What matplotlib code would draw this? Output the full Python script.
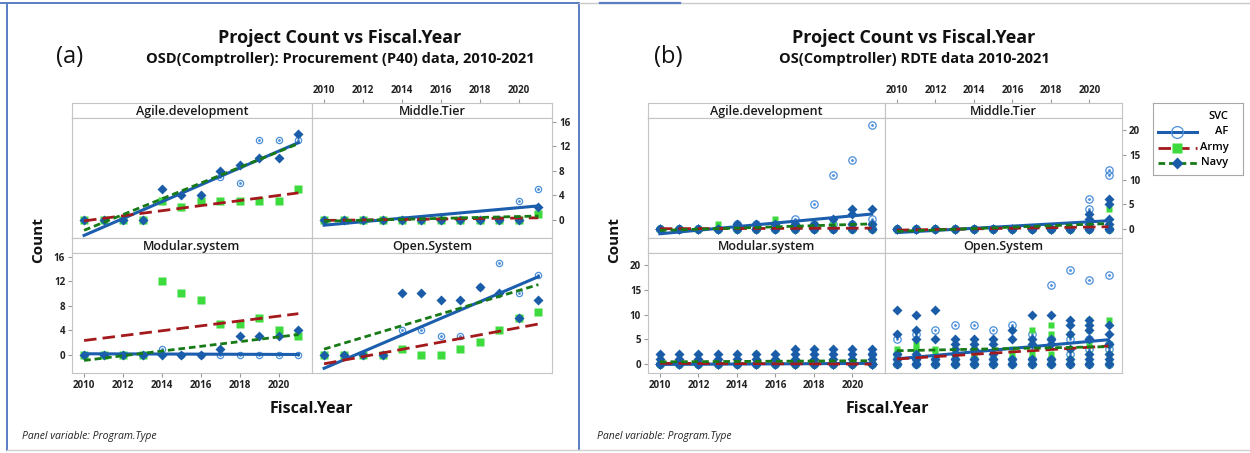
import numpy as np
import matplotlib
matplotlib.use("Agg")
import matplotlib.pyplot as plt
from matplotlib.lines import Line2D

plt.rcParams["font.family"] = ["Open Sans", "DejaVu Sans"]

W, H = 1250, 453

years = list(range(2010, 2022))
programs = ["Agile.development", "Middle.Tier", "Modular.system", "Open.System"]
services = ["AF", "Army", "Navy"]

# (a) OSD(Comptroller) procurement (P40): one count per service per year
p40_agile_af = [0, 0, 0, 0, 3, 2, 3, 7, 6, 13, 13, 13]
p40_agile_army = [0, 0, 0, 0, 3, 2, 3, 3, 3, 3, 3, 5]
p40_agile_navy = [0, 0, 0, 0, 5, 4, 4, 8, 9, 10, 10, 14]
p40_middle_af = [0, 0, 0, 0, 0, 0, 0, 0, 0, 0, 3, 5]
p40_middle_army = [0, 0, 0, 0, 0, 0, 0, 0, 0, 0, 0, 1]
p40_middle_navy = [0, 0, 0, 0, 0, 0, 0, 0, 0, 0, 0, 2]
p40_modular_af = [0, 0, 0, 0, 1, 0, 0, 0, 0, 0, 0, 0]
p40_modular_army = [0, 0, 0, 0, 12, 10, 9, 5, 5, 6, 4, 3]
p40_modular_navy = [0, 0, 0, 0, 0, 0, 0, 1, 3, 3, 3, 4]
p40_open_af = [0, 0, 0, 0, 4, 4, 3, 3, 11, 15, 10, 13]
p40_open_army = [0, 0, 0, 0, 1, 0, 0, 1, 2, 4, 6, 7]
p40_open_navy = [0, 0, 0, 0, 10, 10, 9, 9, 11, 10, 6, 9]

# (b) OS(Comptroller) RDTE: several program counts per service per year
rdte_agile_af = [[0, 0, 0, 0, 0]] * 4 + [[0, 0, 0, 0, 1]] * 3 + [
    [0, 0, 0, 1, 2], [0, 0, 0, 1, 5], [0, 0, 0, 1, 11], [0, 0, 0, 1, 14], [0, 0, 1, 2, 21]]
rdte_agile_army = [[0, 0, 0], [0, 0, 0], [0, 0, 0], [0, 0, 1], [0, 0, 0], [0, 0, 0],
                   [0, 0, 2], [0, 0, 0], [0, 0, 1], [0, 0, 1], [0, 0, 0], [0, 0, 0]]
rdte_agile_navy = [[0, 0, 0, 0]] * 4 + [[0, 0, 0, 1]] * 5 + [
    [0, 0, 0, 2], [0, 0, 1, 3, 4], [0, 0, 1, 4]]
rdte_middle_af = [[0, 0, 0, 0, 0]] * 10 + [[0, 0, 0, 0, 4, 6], [0, 0, 0, 0, 11, 12]]
rdte_middle_army = [[0, 0, 0]] * 10 + [[0, 0, 1], [0, 0, 4]]
rdte_middle_navy = [[0, 0, 0, 0]] * 10 + [[0, 0, 0, 1, 2, 3], [0, 0, 1, 2, 5, 6]]
rdte_modular_af = [[0, 0, 0, 0]] * 11 + [[0, 0, 0, 2]]
rdte_modular_army = [[0, 0, 1]] + [[0, 0, 0]] * 4 + [[0, 0, 2]] + [[0, 0, 0]] * 6
rdte_modular_navy = [[0, 0, 0, 0, 1, 2]] * 7 + [[0, 0, 0, 0, 0, 0, 1, 2, 3]] * 5
rdte_open_af = [[0, 0, 1, 2, 5], [0, 0, 1, 6], [0, 0, 1, 7], [0, 0, 1, 8], [0, 0, 1, 8],
                [0, 0, 1, 7], [0, 0, 1, 8], [0, 0, 1, 6], [0, 0, 1, 5, 16],
                [0, 0, 2, 5, 19], [0, 0, 3, 5, 17], [0, 0, 3, 4, 18]]
rdte_open_army = [[0, 1, 2, 3], [0, 1, 2, 3, 4], [0, 1, 2, 3], [0, 1, 2, 3], [0, 1, 2, 3],
                  [0, 1, 2], [0, 1, 2, 3], [0, 1, 2, 4, 7], [0, 1, 2, 6, 8], [0, 1, 3, 6],
                  [0, 2, 4, 7, 9], [0, 2, 4, 9]]
rdte_open_navy = [[0, 0, 1, 2, 6, 11], [0, 0, 1, 2, 5, 7, 10], [0, 0, 1, 5, 11],
                  [0, 0, 1, 2, 3, 4, 5], [0, 0, 1, 3, 4, 5], [0, 0, 1, 2, 4, 5],
                  [0, 0, 1, 5, 7], [0, 0, 1, 4, 5, 10], [0, 0, 1, 4, 5, 10],
                  [0, 0, 1, 3, 6, 8, 9], [0, 0, 1, 2, 5, 7, 8, 9], [0, 1, 2, 4, 6, 8]]

p40 = {
    ("Agile.development", "AF"): p40_agile_af, ("Agile.development", "Army"): p40_agile_army,
    ("Agile.development", "Navy"): p40_agile_navy,
    ("Middle.Tier", "AF"): p40_middle_af, ("Middle.Tier", "Army"): p40_middle_army,
    ("Middle.Tier", "Navy"): p40_middle_navy,
    ("Modular.system", "AF"): p40_modular_af, ("Modular.system", "Army"): p40_modular_army,
    ("Modular.system", "Navy"): p40_modular_navy,
    ("Open.System", "AF"): p40_open_af, ("Open.System", "Army"): p40_open_army,
    ("Open.System", "Navy"): p40_open_navy,
}
p40 = {k: [[v] for v in vals] for k, vals in p40.items()}
rdte = {
    ("Agile.development", "AF"): rdte_agile_af, ("Agile.development", "Army"): rdte_agile_army,
    ("Agile.development", "Navy"): rdte_agile_navy,
    ("Middle.Tier", "AF"): rdte_middle_af, ("Middle.Tier", "Army"): rdte_middle_army,
    ("Middle.Tier", "Navy"): rdte_middle_navy,
    ("Modular.system", "AF"): rdte_modular_af, ("Modular.system", "Army"): rdte_modular_army,
    ("Modular.system", "Navy"): rdte_modular_navy,
    ("Open.System", "AF"): rdte_open_af, ("Open.System", "Army"): rdte_open_army,
    ("Open.System", "Navy"): rdte_open_navy,
}

LINE = {
    "AF": dict(color="#1B5EAE", ls="-", lw=2.2),
    "Army": dict(color="#A3191C", ls=(0, (4.5, 2.2)), lw=2.0),
    "Navy": dict(color="#177A17", ls=(0, (2.4, 1.4)), lw=2.0),
}
MARK = {
    "AF": dict(marker="o", mfc="none", mec="#4C8FD9", mew=0.9),
    "Army": dict(marker="s", mfc="#3DDB3D", mec="none"),
    "Navy": dict(marker="D", mfc="#1A5CA8", mec="none"),
}
GRAY = "#C4C4C4"
TICK = dict(fontsize=7, fontweight="bold", color="#222222")


def px_rect(x0, y0, x1, y1):
    return [x0 / W, 1 - y1 / H, (x1 - x0) / W, (y1 - y0) / H]


def style_box(ax):
    for s in ax.spines.values():
        s.set_color(GRAY)
        s.set_linewidth(0.8)
    ax.tick_params(length=3, width=0.8, color="#9A9A9A", pad=2)


def flatten(per_year):
    xs, ys = [], []
    for yr, vals in zip(years, per_year):
        xs += [yr] * len(vals)
        ys += vals
    return xs, ys


def draw_panel(fig, cols, table, ylim, yticks, sizes):
    rows = [(103, 118, 238), (238, 253, 373)]
    xlim = (2009.38, 2021.7)
    xt = list(range(2010, 2021, 2))
    for i, prog in enumerate(programs):
        r, c = divmod(i, 2)
        top, mid, bot = rows[r]
        hdr = fig.add_axes(px_rect(cols[c], top, cols[c + 1], mid))
        ax = fig.add_axes(px_rect(cols[c], mid, cols[c + 1], bot))
        for a in (hdr, ax):
            style_box(a)
            a.set_xlim(*xlim)
            a.set_xticks([])
            a.set_yticks([])
        ax.set_ylim(*ylim)
        hdr.text(0.5, 0.45, prog, transform=hdr.transAxes, ha="center", va="center",
                 fontsize=9, fontweight="semibold", color="#1A1A1A")

        # symbols first, then the fitted regression line of each service
        for svc in services:
            xs, ys = flatten(table[(prog, svc)])
            ax.plot(xs, ys, ls="none", ms=sizes[svc], zorder=3, **MARK[svc])
            if svc == "AF":
                ax.plot(xs, ys, ls="none", marker="o", ms=1.0, color="#4C8FD9", zorder=3)
        for svc in services:
            xs, ys = flatten(table[(prog, svc)])
            k, b = np.polyfit(xs, ys, 1)
            fx = np.array([2010, 2021])
            ax.plot(fx, k * fx + b, zorder=4, **LINE[svc])

        if r == 0 and c == 1:
            hdr.xaxis.tick_top()
            hdr.set_xticks(xt)
            hdr.set_xticklabels([str(t) for t in xt], **TICK)
            ax.yaxis.tick_right()
            ax.set_yticks(yticks)
            ax.set_yticklabels([str(t) for t in yticks], **TICK)
        if r == 1 and c == 0:
            ax.set_xticks(xt)
            ax.set_xticklabels([str(t) for t in xt], **TICK)
            ax.set_yticks(yticks)
            ax.set_yticklabels([str(t) for t in yticks], **TICK)


def fig_line(fig, x0, y0, x1, y1, color, lw):
    fig.add_artist(Line2D([x0 / W, x1 / W], [1 - y0 / H, 1 - y1 / H],
                          transform=fig.transFigure, color=color, lw=lw))


fig = plt.figure(figsize=(W / 100, H / 100), dpi=100)

# panel borders
fig_line(fig, 0, 3, 579, 3, "#5A7EC4", 1.4)
fig_line(fig, 7, 3, 7, 450, "#5A7EC4", 1.4)
fig_line(fig, 579, 3, 579, 450, "#5A7EC4", 1.4)
fig_line(fig, 7, 450, 579, 450, "#D0D0D0", 1.0)
fig_line(fig, 579, 3, 1250, 3, "#C8C8C8", 1.0)
fig_line(fig, 600, 3, 680, 3, "#5A7EC4", 1.6)
fig_line(fig, 579, 450, 1250, 450, "#D0D0D0", 1.0)

draw_panel(fig, [72, 312, 552], p40, (-3.0, 16.6), [0, 4, 8, 12, 16],
           {"AF": 4.5, "Army": 5.5, "Navy": 5.0})
draw_panel(fig, [648, 885, 1122], rdte, (-1.8, 22.5), [0, 5, 10, 15, 20],
           {"AF": 5.3, "Army": 4.8, "Navy": 4.7})

titles = [
    (340, 70, "(a)", "OSD(Comptroller): Procurement (P40) data, 2010-2021", 311, 22),
    (914, 668, "(b)", "OS(Comptroller) RDTE data 2010-2021", 887, 597),
]
for cx, lx, tag, sub, xlx, px in titles:
    fig.text(cx / W, 1 - 38 / H, "Project Count vs Fiscal.Year", ha="center", va="center",
             fontsize=13, fontweight="bold", color="#111111")
    fig.text(cx / W, 1 - 59 / H, sub, ha="center", va="center",
             fontsize=10.5, fontweight="bold", color="#111111")
    fig.text(lx / W, 1 - 57 / H, tag, ha="center", va="center", fontsize=17, color="#111111")
    fig.text(xlx / W, 1 - 409 / H, "Fiscal.Year", ha="center", va="center",
             fontsize=11.5, fontweight="bold", color="#111111")
    fig.text(px / W, 1 - 437 / H, "Panel variable: Program.Type", ha="left", va="center",
             fontsize=7.5, style="italic", color="#222222")

fig.text(38 / W, 1 - 240 / H, "Count", rotation=90, ha="center", va="center",
         fontsize=11, fontweight="bold", color="#111111")
fig.text(614 / W, 1 - 240 / H, "Count", rotation=90, ha="center", va="center",
         fontsize=11, fontweight="bold", color="#111111")

# legend for the service groups
lg = fig.add_axes(px_rect(1153, 103, 1243, 175))
lg.set_xlim(0, 1)
lg.set_ylim(0, 1)
lg.set_xticks([])
lg.set_yticks([])
for s in lg.spines.values():
    s.set_color("#A8A8A8")
    s.set_linewidth(0.8)
lg.text(0.84, 0.81, "SVC", ha="right", va="center", fontsize=8, fontweight="semibold")
leg_sizes = {"AF": 8.5, "Army": 6.5, "Navy": 6.0}
for svc, yy in zip(services, [0.60, 0.38, 0.17]):
    lg.plot([0.05, 0.49], [yy, yy], **LINE[svc])
    lg.plot([0.27], [yy], ls="none", ms=leg_sizes[svc], **MARK[svc])
    lg.text(0.84, yy, svc, ha="right", va="center", fontsize=8, fontweight="semibold")

fig.savefig("out.png", dpi=100)
